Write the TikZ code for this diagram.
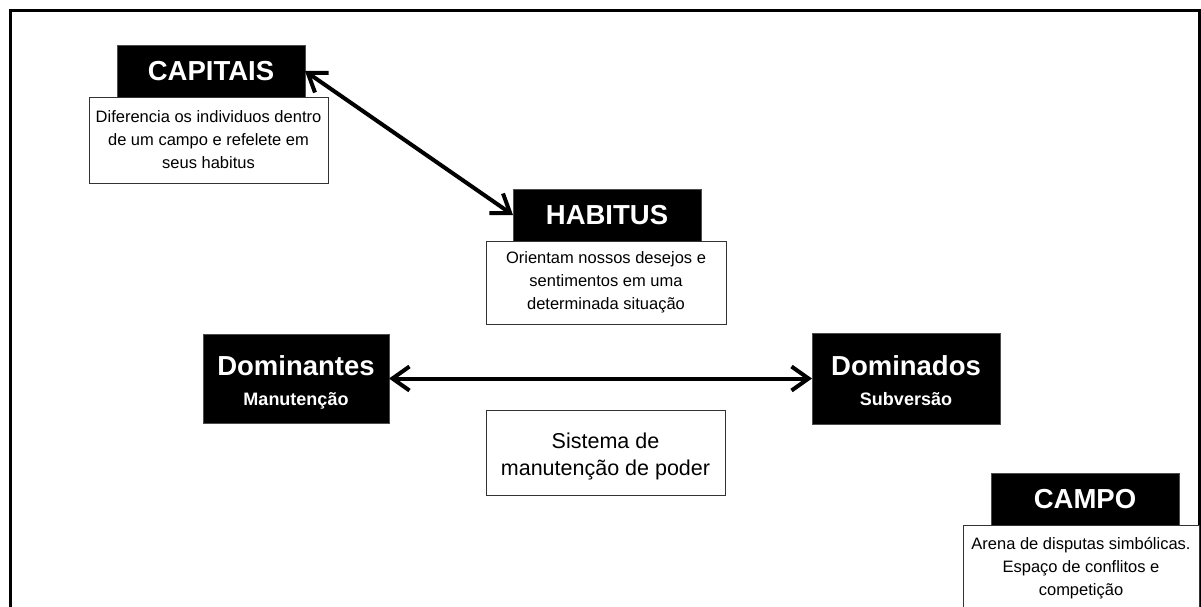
\documentclass[tikz,border=0pt]{standalone}
\usepackage{fontspec}
\setmainfont{Liberation Sans}
\usetikzlibrary{arrows.meta,positioning}

\begin{document}
\begin{tikzpicture}[x=1pt, y=-1pt,
        title/.style={fill=black, draw=black!70, text=white, inner sep=0pt, outer sep=0pt,
            minimum width=188pt, minimum height=52pt, font=\fontsize{27.5}{30}\selectfont\bfseries},
        pole/.style={title, align=center, minimum height=90pt, text height=53pt, text depth=0pt},
        desc/.style={fill=white, draw=black!80, line width=0.8pt, inner sep=0pt, outer sep=0pt,
            align=center, minimum width=240pt, minimum height=85pt, font=\fontsize{16.5}{23}\selectfont},
        link/.style={line width=4pt, {Straight Barb[length=17pt,width=24pt]}-{Straight Barb[length=17pt,width=24pt]}}]
        \useasboundingbox (0,0) rectangle (1201,606);

        % Draw the frame
        \draw[line width=3pt] (10,620) -- (10,10) -- (1199,10) -- (1199,620);

        % Concepts and their descriptions
        \node[title] (capitais) at (211,71) {CAPITAIS};
        \node[desc, below=0pt of capitais, xshift=-2.5pt, minimum width=239pt, minimum height=86pt] (capitaisdesc)
            {Diferencia os individuos dentro\\de um campo e refelete em\\seus habitus};
        \node[title] (habitus) at (607,215) {HABITUS};
        \node[desc, below=0pt of habitus, xshift=-1pt, minimum height=83pt] (habitusdesc)
            {Orientam nossos desejos e\\sentimentos em uma\\determinada situação};
        \node[title] (campo) at (1085,499) {CAMPO};
        \node[desc, below=0pt of campo, xshift=-4pt, minimum width=236pt, minimum height=86pt] (campodesc)
            {Arena de disputas simbólicas.\\Espaço de conflitos e\\competição};

        % The two poles of the field
        \node[pole, minimum width=186pt, minimum height=89pt] (dominantes) at (296,378.5)
            {Dominantes\\{\fontsize{18}{30}\selectfont Manutenção}};
        \node[pole, minimum height=91pt] (dominados) at (906,378.5)
            {Dominados\\{\fontsize{18}{30}\selectfont Subversão}};
        \node[desc, minimum width=239pt, font=\fontsize{21.5}{27}\selectfont,
            text height=46pt, text depth=1pt] (sistema) at (605.5,452.5)
            {Sistema de\\manutenção de poder};

        % Connections
        \draw[link] (capitais.east) -- (habitus.west);
        \draw[link] (dominantes.east) -- (dominados.west);
\end{tikzpicture}
\end{document}
